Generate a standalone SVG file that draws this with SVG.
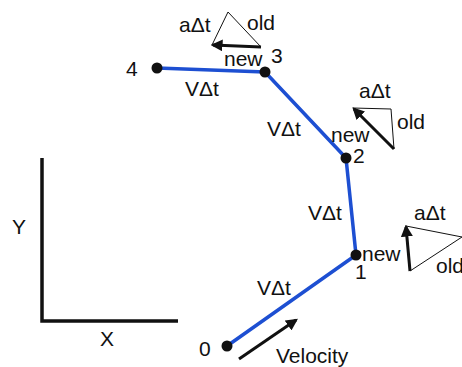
<svg xmlns="http://www.w3.org/2000/svg" width="462" height="367" viewBox="0 0 462 367">
<style>
text{font-family:"Liberation Sans",Arial,sans-serif;font-size:21px;fill:#111}
.path{stroke:#1d4fd2;stroke-width:3.5;fill:none;stroke-linejoin:round}
.thin{stroke:#111;stroke-width:1;fill:none}
.thick{stroke:#111;stroke-width:3;fill:none}
.axis{stroke:#111;stroke-width:3.5;fill:none}
</style>
<defs>
<marker id="ah" viewBox="0 0 10 10" refX="8" refY="5" markerWidth="4" markerHeight="4" orient="auto" markerUnits="strokeWidth">
<path d="M0,0 L10,5 L0,10 Z" fill="#111"/>
</marker>
</defs>
<g id="axes">
<path class="axis" d="M42,158 V321 H178"/>
<text x="12" y="234">Y</text>
<text x="100" y="346">X</text>
</g>
<g id="connectors">
<polyline class="path" points="227,346 356,255 346,158 265,72 157,68"/>
<text x="257" y="295">VΔt</text>
<text x="308" y="220">VΔt</text>
<text x="267" y="136">VΔt</text>
<text x="185" y="96">VΔt</text>
</g>
<g id="p0">
<circle cx="227" cy="346" r="5.5" fill="#111"/>
<text x="199" y="356">0</text>
</g>
<g id="p1">
<circle cx="356" cy="255" r="5.5" fill="#111"/>
<text x="355" y="279">1</text>
<text x="362" y="261">new</text>
</g>
<g id="p2">
<circle cx="346" cy="158" r="5.5" fill="#111"/>
<text x="353" y="163">2</text>
<text x="331" y="142">new</text>
</g>
<g id="p3">
<circle cx="265" cy="72" r="5.5" fill="#111"/>
<text x="271" y="63">3</text>
<text x="224" y="66">new</text>
</g>
<g id="p4">
<circle cx="157" cy="68" r="5.5" fill="#111"/>
<text x="126" y="76">4</text>
</g>
<g id="tri3">
<polyline class="thin" points="212,45 228,12 261,47"/>
<line class="thick" x1="261" y1="47" x2="213" y2="45" marker-end="url(#ah)"/>
<text x="179" y="32">aΔt</text>
<text x="247" y="30">old</text>
</g>
<g id="tri2">
<polyline class="thin" points="353,108 391,109 394,149"/>
<line class="thick" x1="394" y1="149" x2="354" y2="109" marker-end="url(#ah)"/>
<text x="359" y="98">aΔt</text>
<text x="397" y="129">old</text>
</g>
<g id="tri1">
<polyline class="thin" points="406,226 462,237"/>
<polyline class="thin" points="410,271 462,237"/>
<line class="thick" x1="410" y1="271" x2="406" y2="227" marker-end="url(#ah)"/>
<text x="414" y="220">aΔt</text>
<text x="436" y="273">old</text>
</g>
<g id="velocity">
<line class="thick" x1="239" y1="359" x2="296" y2="320" marker-end="url(#ah)"/>
<text x="276" y="363">Velocity</text>
</g>
</svg>
